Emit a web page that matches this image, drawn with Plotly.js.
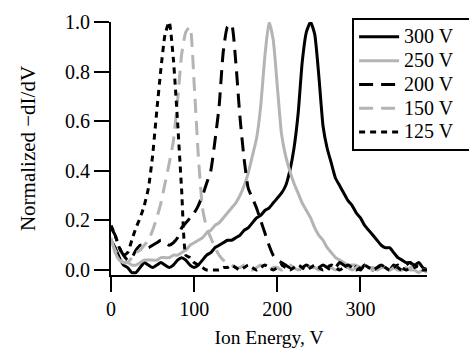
<!DOCTYPE html>
<html>
<head>
<meta charset="utf-8">
<script src="https://cdn.plot.ly/plotly-3.0.1.min.js"></script>
<style>html,body{margin:0;padding:0;background:#fff;}#chart{width:469px;height:350px;}</style>
</head>
<body>
<div id="chart"></div>
<script>
// Ion energy axis (V), shared by all series
const energy = [0,5,10,15,20,25,30,35,40,45,50,55,60,65,70,75,80,85,90,95,100,105,110,115,120,125,130,135,140,145,150,155,160,165,170,175,180,185,190,195,200,205,210,215,220,225,230,235,240,245,250,255,260,265,270,275,280,285,290,295,300,305,310,315,320,325,330,335,340,345,350,355,360,365,370,375,380];

const seriesNames = ["300 V", "250 V", "200 V", "150 V", "125 V"];

const v300 = [0.12,0.09,0.05,0.02,0.01,-0.01,-0.01,0.01,0.03,0.02,0.01,0.02,0.03,0.02,0.01,0.02,0.04,0.05,0.04,0.02,0.01,0.02,0.04,0.06,0.07,0.09,0.10,0.11,0.12,0.12,0.13,0.14,0.16,0.17,0.19,0.21,0.22,0.24,0.25,0.27,0.29,0.31,0.34,0.40,0.49,0.63,0.84,0.96,1.0,0.95,0.78,0.58,0.49,0.43,0.37,0.34,0.31,0.28,0.26,0.23,0.21,0.18,0.16,0.14,0.12,0.10,0.09,0.09,0.07,0.05,0.04,0.03,0.03,0.02,0.03,0.01,0.0];

const v250 = [0.13,0.07,0.04,0.03,0.03,0.02,0.02,0.03,0.04,0.04,0.04,0.04,0.05,0.05,0.05,0.06,0.06,0.07,0.08,0.10,0.11,0.12,0.13,0.15,0.16,0.18,0.19,0.21,0.23,0.25,0.27,0.30,0.34,0.39,0.46,0.53,0.66,0.86,1.0,0.93,0.74,0.55,0.46,0.40,0.35,0.31,0.27,0.24,0.21,0.17,0.14,0.12,0.09,0.07,0.05,0.04,0.03,0.02,0.02,0.02,0.01,0.02,0.01,0.01,0.0,0.01,0.01,0.0,0.01,0.0,0.0,0.01,0.0,0.0,-0.01,0.0,-0.01];

const v200 = [0.17,0.14,0.09,0.06,0.04,0.05,0.08,0.10,0.10,0.09,0.10,0.11,0.12,0.11,0.10,0.11,0.13,0.17,0.19,0.21,0.23,0.26,0.30,0.35,0.40,0.52,0.66,0.88,0.98,0.99,0.84,0.62,0.45,0.33,0.29,0.25,0.20,0.15,0.10,0.06,0.04,0.03,0.02,0.01,0.01,0.0,0.01,0.02,0.01,0.0,0.01,0.02,0.01,0.0,0.01,0.03,0.02,0.01,0.02,0.01,0.0,0.02,0.01,0.0,0.01,0.02,0.01,0.0,0.02,0.01,0.0,0.02,0.03,0.01,0.02,0.01,0.0];

const v150 = [0.12,0.08,0.05,0.03,0.03,0.05,0.07,0.08,0.10,0.12,0.16,0.21,0.27,0.35,0.43,0.52,0.68,0.87,0.96,0.98,0.75,0.46,0.25,0.17,0.13,0.09,0.06,0.04,0.03,0.02,0.01,0.01,0.02,0.01,0.0,0.01,0.02,0.01,0.0,0.01,0.01,0.0,0.01,0.02,0.01,0.0,0.01,0.02,0.01,0.01,0.0,0.01,0.02,0.01,0.0,0.01,0.02,0.01,0.0,0.01,0.01,0.02,0.01,0.0,0.01,0.02,0.01,0.0,0.01,0.02,0.01,0.0,0.01,0.02,0.01,0.0,0.0];

const v125 = [0.18,0.14,0.09,0.06,0.07,0.12,0.17,0.21,0.26,0.33,0.46,0.64,0.81,0.95,1.0,0.85,0.60,0.32,0.06,0.05,0.03,0.02,0.01,0.0,0.0,0.0,0.0,0.01,0.01,0.02,0.01,0.0,0.01,0.02,0.01,0.0,0.01,0.02,0.01,0.0,0.01,0.02,0.01,0.0,0.01,0.02,0.01,0.0,0.01,0.02,0.01,0.0,0.01,0.02,0.01,0.0,0.01,0.02,0.01,0.0,0.01,0.02,0.01,0.0,0.01,0.02,0.01,0.0,0.01,0.02,0.01,0.0,0.01,0.02,0.01,0.0,0.0];

const styles = [
  {color: "#000000", dash: "solid"},
  {color: "#b4b4b4", dash: "solid"},
  {color: "#000000", dash: "14px,8px"},
  {color: "#b4b4b4", dash: "14px,8px"},
  {color: "#000000", dash: "6px,5px"}
];
const allValues = [v300, v250, v200, v150, v125];

const traces = allValues.map((vals, i) => ({
  x: energy,
  y: vals,
  type: "scatter",
  mode: "lines",
  name: "<span style='font-size:20px'>" + seriesNames[i] + "</span><span style='font-size:24px;color:#ffffff'>0</span>",
  line: {color: styles[i].color, width: 3, dash: styles[i].dash, shape: "spline", smoothing: 0.5}
}));

const fam = "Liberation Serif, Times New Roman, serif";

const layout = {
  width: 469, height: 350,
  margin: {l: 111, r: 42, t: 22, b: 75, pad: 0, autoexpand: false},
  paper_bgcolor: "#fff", plot_bgcolor: "#fff",
  font: {family: fam, size: 20, color: "#000"},
  showlegend: true,
  legend: {
    x: 0.763, y: 1.016, xanchor: "left", yanchor: "top",
    bordercolor: "#000", borderwidth: 2, bgcolor: "#fff",
    font: {family: fam, size: 16, color: "#000"},
    itemwidth: 40, tracegroupgap: 0
  },
  xaxis: {
    range: [0, 380], tickvals: [0, 100, 200, 300], ticktext: ["0", "100", "200", "300"],
    showgrid: false, zeroline: false, showline: true, linecolor: "#000", linewidth: 2,
    ticks: "outside", ticklen: 15, tickwidth: 2, tickcolor: "#000",
    title: {text: "Ion Energy, V", font: {family: fam, size: 19.5}, standoff: 11},
    tickfont: {family: fam, size: 20}
  },
  yaxis: {
    range: [-0.02, 1.0], tickvals: [0, 0.2, 0.4, 0.6, 0.8, 1.0], ticktext: ["0.0", "0.2", "0.4", "0.6", "0.8", "1.0"],
    showgrid: false, zeroline: false, showline: true, linecolor: "#000", linewidth: 2,
    ticks: "outside", ticklen: 15, tickwidth: 2, tickcolor: "#000",
    title: {text: "Normalized \u2212dI/dV", font: {family: fam, size: 21}, standoff: 24},
    tickfont: {family: fam, size: 20}
  }
};

Plotly.newPlot("chart", traces, layout, {displayModeBar: false, staticPlot: true});
</script>
</body>
</html>
